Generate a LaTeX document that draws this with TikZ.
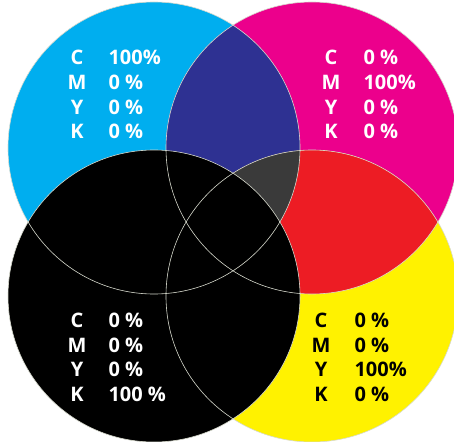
\documentclass[tikz,border=0pt]{standalone}
\usepackage{fontspec}
\setmainfont{Open Sans}
\definecolor{procyan}{RGB}{0,174,239}
\definecolor{promagenta}{RGB}{236,0,140}
\definecolor{proyellow}{RGB}{255,242,0}
\definecolor{problue}{RGB}{46,49,146}
\definecolor{prored}{RGB}{237,28,36}
\definecolor{progreen}{RGB}{0,166,81}
\definecolor{progray}{RGB}{58,58,58}
\definecolor{rimline}{RGB}{215,218,205}

\begin{document}
\begin{tikzpicture}[x=1pt,y=-1pt,
    rim/.style={line width=0.6pt,draw=rimline},
    lbl/.style={font=\fontsize{20}{20}\selectfont\bfseries,anchor=base},
    val/.style={font=\fontsize{20}{20}\selectfont\bfseries,anchor=base west}
]
\useasboundingbox (0,0) rectangle (454,441);
\coordinate (c) at (154,148);
\coordinate (m) at (312,148);
\coordinate (k) at (154,296);
\coordinate (y) at (312,296);
\fill[procyan] (c) circle (146pt);
\fill[promagenta] (m) circle (146pt);
\fill[proyellow] (y) circle (146pt);
\begin{scope}
  \clip (c) circle (146pt);
  \fill[problue] (m) circle (146pt);
  \fill[progreen] (y) circle (146pt);
\end{scope}
\begin{scope}
  \clip (m) circle (146pt);
  \fill[prored] (y) circle (146pt);
  \clip (c) circle (146pt);
  \fill[progray] (y) circle (146pt);
\end{scope}
\fill[black] (k) circle (146pt);
\foreach \p in {c,m,k,y}
  \draw[rim] (\p) circle (146pt);
\foreach \l/\v [count=\i] in {C/100\%,M/0 \%,Y/0 \%,K/0 \%}{
  \node[lbl,text=white] (cl\i) at (77,{40.5+24.5*\i}) {\l};
  \node[val,text=white] (cv\i) at (105,{40.5+24.5*\i}) {\v};
}
\foreach \l/\v [count=\i] in {C/0 \%,M/100\%,Y/0 \%,K/0 \%}{
  \node[lbl,text=white] (ml\i) at (331,{40.5+24.5*\i}) {\l};
  \node[val,text=white] (mv\i) at (360,{40.5+24.5*\i}) {\v};
}
\foreach \l/\v [count=\i] in {C/0 \%,M/0 \%,Y/0 \%,K/100 \%}{
  \node[lbl,text=white] (kl\i) at (77,{303+24.5*\i}) {\l};
  \node[val,text=white] (kv\i) at (105,{303+24.5*\i}) {\v};
}
\foreach \l/\v [count=\i] in {C/0 \%,M/0 \%,Y/100\%,K/0 \%}{
  \node[lbl,text=black] (yl\i) at (321,{303+24.5*\i}) {\l};
  \node[val,text=black] (yv\i) at (351,{303+24.5*\i}) {\v};
}
\end{tikzpicture}
\end{document}
